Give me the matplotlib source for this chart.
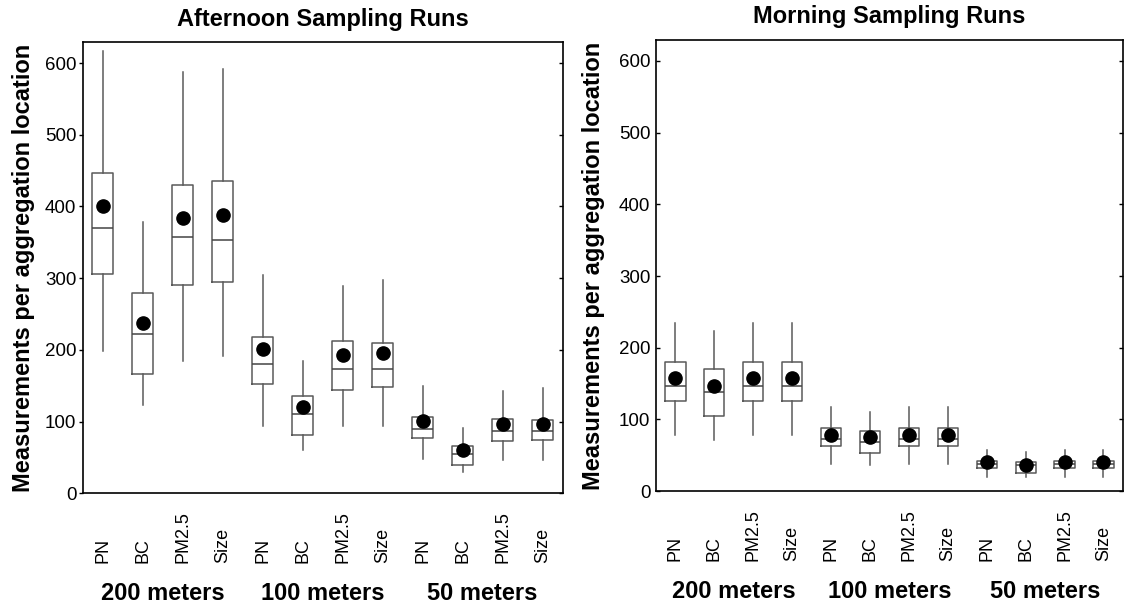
import numpy as np
import matplotlib
matplotlib.use('Agg')
import matplotlib.pyplot as plt
from matplotlib import lines as mlines

plt.rcParams['font.family'] = ['Liberation Sans', 'DejaVu Sans']

pollutants = ['PN', 'BC', 'PM2.5', 'Size'] * 3
groups = ['200 meters', '100 meters', '50 meters']

# afternoon runs: whisker low, Q1, median, Q3, whisker high, mean
pm_low = [198, 123, 185, 191, 94, 60, 94, 94, 48, 30, 46, 46]
pm_q1 = [306, 166, 291, 295, 152, 81, 144, 148, 77, 40, 73, 75]
pm_med = [370, 222, 357, 353, 181, 110, 174, 174, 90, 55, 87, 87]
pm_q3 = [446, 280, 430, 436, 218, 135, 212, 210, 106, 66, 104, 102]
pm_high = [617, 378, 587, 592, 305, 185, 289, 297, 149, 91, 143, 147]
pm_mean = [400, 238, 384, 388, 201, 120, 193, 195, 101, 60, 97, 97]

# morning runs
am_low = [78, 72, 78, 78, 38, 36, 38, 38, 20, 20, 20, 20]
am_q1 = [126, 105, 126, 126, 63, 53, 63, 63, 32, 26, 32, 32]
am_med = [146, 138, 146, 146, 73, 69, 73, 73, 38, 36, 38, 38]
am_q3 = [180, 171, 180, 180, 88, 84, 88, 88, 42, 41, 42, 42]
am_high = [235, 223, 235, 235, 117, 110, 117, 117, 58, 54, 58, 58]
am_mean = [158, 147, 158, 158, 79, 75, 79, 79, 40, 37, 40, 40]


def make_stats(low, q1, med, q3, high, mean):
    stats = []
    for i in range(len(low)):
        stats.append({'whislo': low[i], 'q1': q1[i], 'med': med[i],
                      'q3': q3[i], 'whishi': high[i], 'mean': mean[i],
                      'fliers': []})
    return stats


def draw_panel(ax, stats, title, left_out, ylab_x):
    pos = np.arange(1, 13)
    ax.bxp(stats, positions=pos, widths=0.52, showmeans=True,
           showcaps=False, showfliers=False,
           boxprops=dict(color='#5a5a5a', linewidth=1.1),
           whiskerprops=dict(color='#5a5a5a', linewidth=1.1),
           medianprops=dict(color='#444444', linewidth=1.1),
           meanprops=dict(marker='o', markerfacecolor='black',
                          markeredgecolor='black', markersize=9.5))
    ax.set_xlim(0.5, 12.5)
    ax.set_ylim(0, 629)
    ax.set_yticks([0, 100, 200, 300, 400, 500, 600])
    ax.set_xticks([])
    if left_out:
        ax.tick_params(axis='y', labelsize=13.5, length=3, width=1,
                       pad=1.5, direction='out', right=True)
        # right-hand ticks point inward
        for t in ax.yaxis.get_major_ticks():
            t.tick2line.set_marker(mlines.TICKLEFT)
    else:
        ax.tick_params(axis='y', labelsize=13.5, length=3, width=1,
                       pad=4, direction='in', right=True)
    for sp in ax.spines.values():
        sp.set_linewidth(1.2)
    trans = ax.get_xaxis_transform()
    for p, lab in zip(pos, pollutants):
        ax.text(p, -0.1545, lab, rotation=90, ha='center', va='bottom',
                fontsize=13, transform=trans)
    for k, g in enumerate(groups):
        ax.text(2.5 + 4 * k, -0.223, g, ha='center', va='center',
                fontsize=17, fontweight='bold', transform=trans)
    ax.set_ylabel('Measurements per aggregation location', fontsize=17,
                  fontweight='bold')
    ax.yaxis.set_label_coords(ylab_x, 0.5)
    ax.set_title(title, fontsize=17, fontweight='bold', pad=12)


fig = plt.figure(figsize=(11.28, 6.09), dpi=100)
ax1 = fig.add_axes([0.0733, 0.19, 0.4255, 0.7406])
ax2 = fig.add_axes([0.5815, 0.1935, 0.414, 0.7406])

draw_panel(ax1, make_stats(pm_low, pm_q1, pm_med, pm_q3, pm_high, pm_mean),
           'Afternoon Sampling Runs', True, -0.099)
draw_panel(ax2, make_stats(am_low, am_q1, am_med, am_q3, am_high, am_mean),
           'Morning Sampling Runs', False, -0.109)

fig.savefig('out.png', dpi=100)
